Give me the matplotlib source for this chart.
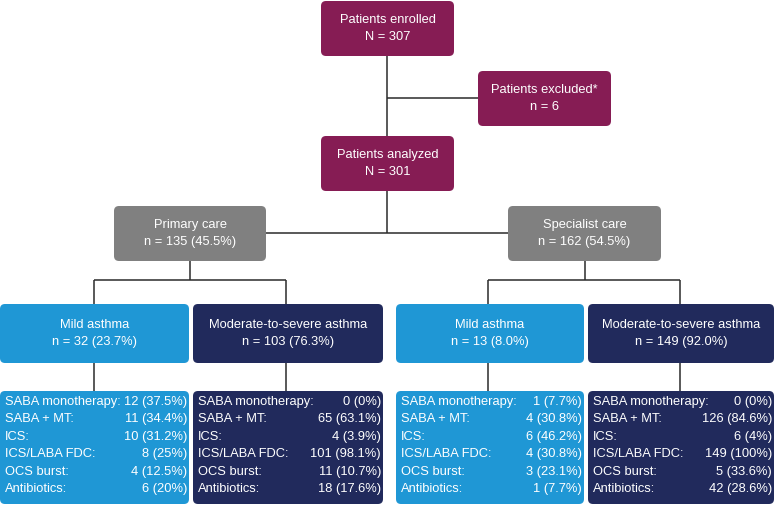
import matplotlib.pyplot as plt
from matplotlib.patches import FancyBboxPatch

plt.rcParams['font.family'] = ['Liberation Sans', 'DejaVu Sans']

PURPLE = "#861c54"
GREY = "#808080"
LIGHT = "#1f97d5"
NAVY = "#212a5c"
LINE = "#2b2b2b"

# top of the flow
top_titles = ["Patients enrolled", "Patients excluded*", "Patients analyzed"]
top_counts = ["N = 307", "n = 6", "N = 301"]

care_titles = ["Primary care", "Specialist care"]
care_counts = ["n = 135 (45.5%)", "n = 162 (54.5%)"]

severity_titles = ["Mild asthma", "Moderate-to-severe asthma",
                   "Mild asthma", "Moderate-to-severe asthma"]
severity_counts = ["n = 32 (23.7%)", "n = 103 (76.3%)",
                   "n = 13 (8.0%)", "n = 149 (92.0%)"]

treatments = ["SABA monotherapy:", "SABA + MT:", "ICS:", "ICS/LABA FDC:",
              "OCS burst:", "Antibiotics:"]
primary_mild = ["12 (37.5%)", "11 (34.4%)", "10 (31.2%)", "8 (25%)", "4 (12.5%)", "6 (20%)"]
primary_mod = ["0 (0%)", "65 (63.1%)", "4 (3.9%)", "101 (98.1%)", "11 (10.7%)", "18 (17.6%)"]
special_mild = ["1 (7.7%)", "4 (30.8%)", "6 (46.2%)", "4 (30.8%)", "3 (23.1%)", "1 (7.7%)"]
special_mod = ["0 (0%)", "126 (84.6%)", "6 (4%)", "149 (100%)", "5 (33.6%)", "42 (28.6%)"]
groups = [primary_mild, primary_mod, special_mild, special_mod]

fig = plt.figure(figsize=(7.77, 5.05), dpi=100)
ax = fig.add_axes([0, 0, 1, 1])
ax.set_xlim(0, 777)
ax.set_ylim(505, 0)
ax.axis("off")

FS = 9.3


def box(x0, y0, x1, y1, color):
    ax.add_patch(FancyBboxPatch((x0, y0), x1 - x0, y1 - y0,
                                boxstyle="round,pad=0,rounding_size=5",
                                fc=color, ec="none", zorder=2))


def two_lines(x0, y0, x1, y1, color, t1, t2):
    box(x0, y0, x1, y1, color)
    cx, cy = (x0 + x1) / 2, (y0 + y1) / 2
    ax.text(cx, cy - 8.5, t1, color="white", fontsize=FS, ha="center", va="center", zorder=3)
    ax.text(cx, cy + 8.5, t2, color="white", fontsize=FS, ha="center", va="center", zorder=3)


def line(xs, ys):
    ax.plot(xs, ys, color=LINE, lw=1.1, zorder=1, solid_capstyle="butt")


# connectors
line([387, 387], [56, 136])
line([387, 478], [98, 98])
line([387, 387], [191, 233])
line([266, 508], [233, 233])
for cx, lx, rx in [(190, 94, 286), (585, 488, 680)]:
    line([cx, cx], [261, 280])
    line([lx, rx], [280, 280])
    line([lx, lx], [280, 304])
    line([rx, rx], [280, 304])
for x in [94, 286, 488, 680]:
    line([x, x], [363, 391])

# top boxes
two_lines(321, 1, 454, 56, PURPLE, top_titles[0], top_counts[0])
two_lines(478, 71, 611, 126, PURPLE, top_titles[1], top_counts[1])
two_lines(321, 136, 454, 191, PURPLE, top_titles[2], top_counts[2])

# care setting
two_lines(114, 206, 266, 261, GREY, care_titles[0], care_counts[0])
two_lines(508, 206, 661, 261, GREY, care_titles[1], care_counts[1])

# severity + treatment boxes
cols = [(0, 189, LIGHT), (193, 383, NAVY), (396, 584, LIGHT), (588, 774, NAVY)]
for (x0, x1, c), title, count, vals in zip(cols, severity_titles, severity_counts, groups):
    two_lines(x0, 304, x1, 363, c, title, count)
    box(x0, 391, x1, 504, c)
    for i, (lab, v) in enumerate(zip(treatments, vals)):
        y = 402 + i * 17.4
        ax.text(x0 + 5, y, lab, color="white", fontsize=FS, ha="left", va="center", zorder=3)
        ax.text(x1 - 2, y, v, color="white", fontsize=FS, ha="right", va="center", zorder=3)

fig.savefig("out.png", dpi=100)
